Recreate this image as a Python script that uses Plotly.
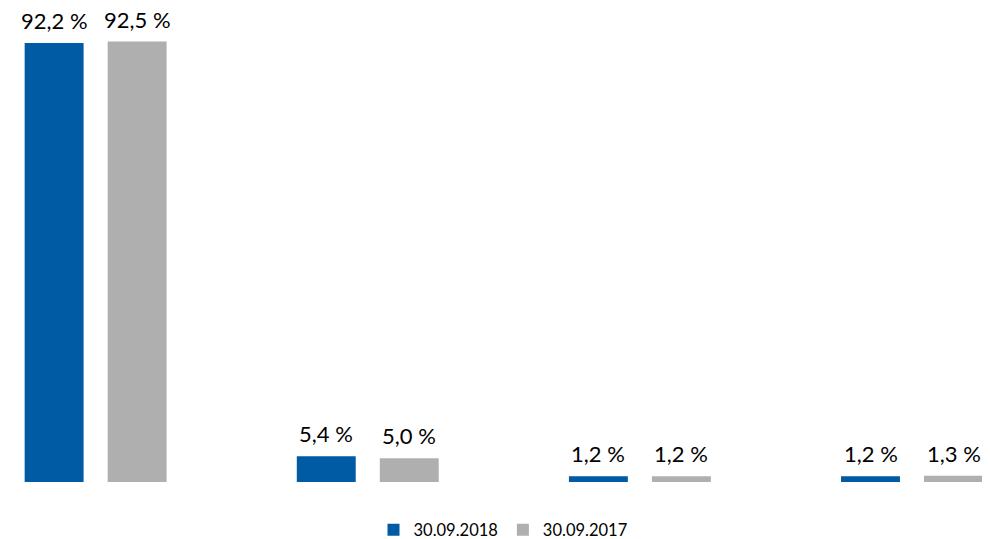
import plotly.graph_objects as go

categories = ["Gruppe 1", "Gruppe 2", "Gruppe 3", "Gruppe 4"]
values_2018 = [92.2, 5.4, 1.2, 1.2]
values_2017 = [92.5, 5.0, 1.2, 1.3]
series_names = ["30.09.2018", "30.09.2017"]
colors = ["#005AA4", "#AFAFAF"]


def pct(v):
    return f"{v:.1f} %".replace(".", ",")


fig = go.Figure()
for name, vals, col in zip(series_names, [values_2018, values_2017], colors):
    fig.add_trace(go.Bar(x=categories, y=vals, name=name, marker_color=col,
                         marker_line_width=0, cliponaxis=False))

# value labels above each bar (offset left/right for the two series)
for i, vals in enumerate([values_2018, values_2017]):
    for cat, v in zip(categories, vals):
        fig.add_annotation(x=cat, y=v, text=pct(v), showarrow=False,
                           xshift=(i - 0.5) * 83, yshift=7, yanchor="bottom",
                           font=dict(size=22, color="#000000"))

fig.update_layout(
    width=990, height=539,
    margin=dict(l=0, r=0, t=12, b=65, autoexpand=False),
    paper_bgcolor="white", plot_bgcolor="white",
    font=dict(family="Lato, sans-serif", color="#000000"),
    barmode="group", bargap=0.39, bargroupgap=0.29,
    xaxis=dict(type="category", range=[-0.322, 3.316], showticklabels=False,
               showgrid=False, zeroline=False, showline=False),
    yaxis=dict(range=[0, 97.03], showticklabels=False, showgrid=False,
               zeroline=False, showline=False),
    legend=dict(orientation="h", x=0.5, xanchor="center", y=-0.104,
                yanchor="middle", font=dict(size=16.5), itemwidth=30),
)

fig.write_html("out.html")
